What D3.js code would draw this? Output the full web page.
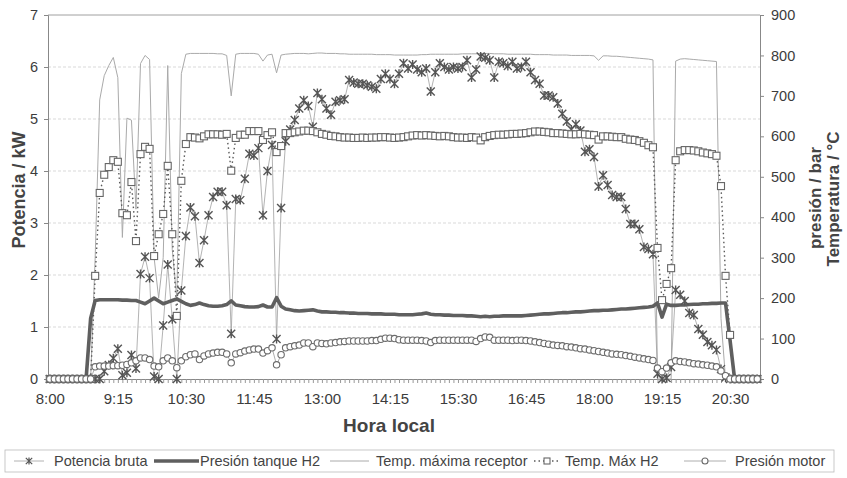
<!DOCTYPE html>
<html>
<head>
<meta charset="utf-8">
<script src="https://cdn.jsdelivr.net/npm/d3@7"></script>
<style>
  body { margin: 0; background: #fff; }
  text { font-family: "Liberation Sans", Arial, sans-serif; fill: #444; }
</style>
</head>
<body>
<svg id="chart" width="847" height="478"></svg>
<script>
// hora local, cada 5 minutos
const times = [
  "8:00","8:05","8:10","8:15","8:20","8:25","8:30","8:35","8:40","8:45","8:50","8:55",
  "9:00","9:05","9:10","9:15","9:20","9:25","9:30","9:35","9:40","9:45","9:50","9:55",
  "10:00","10:05","10:10","10:15","10:20","10:25","10:30","10:35","10:40","10:45","10:50","10:55",
  "11:00","11:05","11:10","11:15","11:20","11:25","11:30","11:35","11:40","11:45","11:50","11:55",
  "12:00","12:05","12:10","12:15","12:20","12:25","12:30","12:35","12:40","12:45","12:50","12:55",
  "13:00","13:05","13:10","13:15","13:20","13:25","13:30","13:35","13:40","13:45","13:50","13:55",
  "14:00","14:05","14:10","14:15","14:20","14:25","14:30","14:35","14:40","14:45","14:50","14:55",
  "15:00","15:05","15:10","15:15","15:20","15:25","15:30","15:35","15:40","15:45","15:50","15:55",
  "16:00","16:05","16:10","16:15","16:20","16:25","16:30","16:35","16:40","16:45","16:50","16:55",
  "17:00","17:05","17:10","17:15","17:20","17:25","17:30","17:35","17:40","17:45","17:50","17:55",
  "18:00","18:05","18:10","18:15","18:20","18:25","18:30","18:35","18:40","18:45","18:50","18:55",
  "19:00","19:05","19:10","19:15","19:20","19:25","19:30","19:35","19:40","19:45","19:50","19:55",
  "20:00","20:05","20:10","20:15","20:20","20:25","20:30","20:35","20:40","20:45","20:50","20:55",
  "21:00"
]

// Potencia bruta, kW (eje izquierdo)
const potencia = [
  0,0,0,0,0,0,0,0,0,0,0,0,
  0.15,0.27,0.4,0.58,0.07,0.12,0.46,0.2,
  2.02,2.35,1.94,0.05,0,1.03,2.2,1.15,0,1.7,
  2.75,3.3,3.13,2.23,2.67,3.15,3.5,3.6,3.6,3.34,
  0.87,3.46,3.44,3.85,4.33,4.3,4.44,3.15,4.0,4.5,
  0.77,3.29,4.57,4.8,4.98,5.2,5.36,5.25,4.85,5.5,
  5.38,5.2,5.08,5.33,5.36,5.38,5.75,5.7,5.68,5.68,
  5.65,5.62,5.58,5.77,5.87,5.77,5.68,5.87,6.07,5.97,
  6.05,5.95,5.9,5.97,5.53,5.9,6.07,6.0,5.95,6.0,
  5.97,6.0,6.13,5.8,5.95,6.2,6.18,6.13,5.8,6.1,
  6.07,6.02,6.1,5.97,6.0,6.1,5.9,5.75,5.68,5.45,
  5.45,5.42,5.3,5.1,4.95,4.8,4.9,4.78,4.37,4.42,
  4.27,3.7,3.92,3.73,3.54,3.5,3.5,3.27,2.98,2.98,
  2.88,2.54,2.5,2.4,0.1,0,0.02,0.23,1.71,1.62,
  1.5,1.27,1.23,0.96,0.85,0.71,0.65,0.56,0.19,0.03,
  0,0,0,0,0,0,0
]

// Presión tanque H2, bar (eje derecho)
const presionTanque = [
  0,0,0,0,0,0,0,0,0,
  150,194,196,196,196,196,196,195,195,194,
  194,190,186,193,200,193,186,190,194,198,
  192,186,182,184,188,184,181,180,180,181,
  184,193,183,181,179,178,178,179,183,178,
  178,201,180,173,171,169,168,169,170,171,
  168,166,166,165,165,164,164,163,163,162,
  162,162,161,161,161,160,160,160,159,159,
  159,159,160,161,163,160,159,159,158,158,
  157,157,157,156,156,155,154,155,154,155,
  155,156,156,156,156,156,157,158,159,160,
  161,161,162,163,164,164,165,166,166,167,
  168,169,169,170,170,171,172,173,173,174,
  175,176,177,178,180,188,153,185,182,182,
  183,183,184,185,185,186,186,187,187,188,
  188,95,0,0,0,0,0,0
]

// Temp. máxima receptor, °C (eje derecho)
const tempReceptor = [
  0,0,0,0,0,0,0,0,0,0,
  300,690,750,775,795,745,350,645,640,420,
  780,800,790,300,200,300,775,320,200,755,
  803,805,805,805,805,805,805,804,804,800,
  700,803,805,805,805,805,803,786,801,803,
  757,801,803,804,805,805,805,804,805,806,
  806,805,805,805,804,804,803,803,803,803,
  803,803,802,802,802,802,801,801,801,801,
  801,801,802,802,803,803,803,803,803,803,
  803,804,804,804,804,805,805,805,804,804,
  804,803,803,803,803,803,803,802,802,802,
  802,801,801,801,801,800,800,800,800,800,
  799,788,799,799,798,798,797,796,795,794,
  793,792,791,789,0,0,0,0,786,791,
  792,791,790,789,788,787,786,785,150,0,
  0,0,0,0,0,0,0
]

// Temp. Máx H2, °C (eje derecho)
const tempH2 = [
  0,0,0,0,0,0,0,0,0,0,
  255,460,505,524,541,537,410,405,487,341,
  556,574,569,304,358,408,527,358,156,490,
  581,598,597,595,600,605,605,605,604,606,
  515,596,604,604,613,613,613,591,603,610,
  561,576,608,608,610,612,614,614,613,610,
  606,604,601,600,598,597,597,596,596,597,
  596,597,597,598,598,597,596,597,598,600,
  602,603,602,603,602,601,600,601,600,598,
  597,597,596,598,597,590,598,601,603,604,
  604,605,606,606,607,608,610,612,612,611,
  610,608,608,607,606,605,605,606,605,604,
  603,592,600,600,599,598,598,594,592,591,
  588,584,578,573,324,195,235,274,541,563,
  566,566,565,563,560,558,556,552,477,255,
  109,0,0,0,0,0,0
]

// Presión motor, bar (eje derecho)
const presionMotor = [
  0,0,0,0,0,0,0,0,0,0,
  30,32,32,32,33,33,34,36,40,45,
  52,52,48,32,30,45,52,45,28,45,
  55,60,62,48,57,62,64,66,66,62,
  40,62,65,69,72,74,74,64,70,77,
  35,60,77,80,82,84,89,89,80,89,
  88,87,89,90,92,93,94,94,94,94,
  94,95,95,98,101,101,100,97,96,96,
  96,96,95,94,90,95,96,96,96,96,
  96,96,96,96,93,100,104,103,96,96,
  96,96,95,96,96,95,94,92,90,88,
  86,84,83,82,80,79,77,75,74,72,
  70,68,66,64,62,61,60,58,56,54,
  52,50,48,46,27,18,27,40,45,43,
  42,40,38,37,35,34,32,30,20,8,
  0,0,0,0,0,0,0
]

const xTickLabels = ["8:00","9:15","10:30","11:45","13:00","14:15","15:30","16:45","18:00","19:15","20:30"]
const yLeftTicks = [0,1,2,3,4,5,6,7]
const yRightTicks = [0,100,200,300,400,500,600,700,800,900]

const parseTime = d3.timeParse("%H:%M")
const rows = times.map((t, i) => ({
  t: parseTime(t),
  pot: potencia[i],
  tanque: presionTanque[i],
  rec: tempReceptor[i],
  h2: tempH2[i],
  motor: presionMotor[i]
}))

let svg = d3.select("#chart")
let plotLeft = 48, plotRight = 760, plotTop = 15, plotBottom = 379

let x = d3.scaleTime()
  .domain([parseTime("7:58"), parseTime("21:03")])
  .range([plotLeft, plotRight])

let yL = d3.scaleLinear().domain([0, 7]).range([plotBottom, plotTop])
let yR = d3.scaleLinear().domain([0, 900]).range([plotBottom, plotTop])

// gridlines
svg.append("g")
  .selectAll("line")
  .data(yLeftTicks.filter(d => d > 0 && d < 7))
  .join("line")
  .attr("x1", plotLeft).attr("x2", plotRight)
  .attr("y1", d => yL(d)).attr("y2", d => yL(d))
  .style("stroke", "#cfcfcf")
  .style("stroke-dasharray", "3,2")
  .style("stroke-width", 0.8)

// plot frame top
svg.append("line")
  .attr("x1", plotLeft).attr("x2", plotRight)
  .attr("y1", plotTop).attr("y2", plotTop)
  .style("stroke", "#a0a0a0")

// axes
let xMinor = svg.append("g")
  .attr("transform", `translate(0,${plotBottom})`)
  .call(d3.axisBottom(x).tickValues(rows.map(d => d.t)).tickSize(4).tickFormat(""))
xMinor.select(".domain").style("stroke", "#888")
xMinor.selectAll(".tick line").style("stroke", "#999")

let xAxis = svg.append("g")
  .attr("transform", `translate(0,${plotBottom})`)
  .call(d3.axisBottom(x).tickValues(xTickLabels.map(parseTime)).tickSize(0).tickPadding(14).tickFormat(d3.timeFormat("%-H:%M")))
xAxis.select(".domain").remove()
xAxis.selectAll("text")
  .style("font-size", "15px")
  .style("fill", "#3c3c3c")

let yLeftAxis = svg.append("g")
  .attr("transform", `translate(${plotLeft},0)`)
  .call(d3.axisLeft(yL).tickValues(yLeftTicks).tickSize(4).tickPadding(6).tickFormat(d3.format("d")))
yLeftAxis.select(".domain").style("stroke", "#888")
yLeftAxis.selectAll(".tick line").style("stroke", "#888")
yLeftAxis.selectAll("text").style("font-size", "14.5px").style("fill", "#3c3c3c")

let yRightAxis = svg.append("g")
  .attr("transform", `translate(${plotRight},0)`)
  .call(d3.axisRight(yR).tickValues(yRightTicks).tickSize(4).tickPadding(7).tickFormat(d3.format("d")))
yRightAxis.select(".domain").style("stroke", "#888")
yRightAxis.selectAll(".tick line").style("stroke", "#888")
yRightAxis.selectAll("text").style("font-size", "14.5px").style("fill", "#3c3c3c")

// series lines
let lineR = key => d3.line().x(d => x(d.t)).y(d => yR(d[key]))
let lineL = key => d3.line().x(d => x(d.t)).y(d => yL(d[key]))

svg.append("path")
  .attr("d", lineR("rec")(rows))
  .style("fill", "none").style("stroke", "#aaa").style("stroke-width", 1)

svg.append("path")
  .attr("d", lineL("pot")(rows))
  .style("fill", "none").style("stroke", "#a0a0a0").style("stroke-width", 0.8)

svg.append("path")
  .attr("d", lineR("h2")(rows))
  .style("fill", "none").style("stroke", "#5a5a5a").style("stroke-width", 1.4)
  .style("stroke-dasharray", "1.5,3")

svg.append("path")
  .attr("d", lineR("motor")(rows))
  .style("fill", "none").style("stroke", "#999").style("stroke-width", 0.8)

svg.append("path")
  .attr("d", lineR("tanque")(rows))
  .style("fill", "none").style("stroke", "#5f5f5f").style("stroke-width", 3.6)
  .style("stroke-linejoin", "round")

// markers
let star = "M-4,-4L4,4M-4,4L4,-4M0,-4.5L0,4.5"

svg.append("g")
  .selectAll("path")
  .data(rows)
  .join("path")
  .attr("transform", d => `translate(${x(d.t)},${yL(d.pot)})`)
  .attr("d", star)
  .style("fill", "none").style("stroke", "#555").style("stroke-width", 1.4)

svg.append("g")
  .selectAll("rect")
  .data(rows)
  .join("rect")
  .attr("x", d => x(d.t) - 3.5)
  .attr("y", d => yR(d.h2) - 3.5)
  .attr("width", 7).attr("height", 7)
  .style("fill", "#fff").style("stroke", "#666").style("stroke-width", 1.1)

svg.append("g")
  .selectAll("circle")
  .data(rows)
  .join("circle")
  .attr("cx", d => x(d.t))
  .attr("cy", d => yR(d.motor))
  .attr("r", 3.2)
  .style("fill", "#fff").style("stroke", "#6c6c6c").style("stroke-width", 1.1)

// axis titles
svg.append("text")
  .attr("transform", "translate(25,190) rotate(-90)")
  .attr("text-anchor", "middle")
  .style("font-size", "18px").style("font-weight", "bold")
  .text("Potencia / kW")

svg.append("text")
  .attr("transform", "translate(821,198) rotate(-90)")
  .attr("text-anchor", "middle")
  .style("font-size", "17px").style("font-weight", "bold")
  .text("presión / bar")

svg.append("text")
  .attr("transform", "translate(839,199) rotate(-90)")
  .attr("text-anchor", "middle")
  .style("font-size", "17px").style("font-weight", "bold")
  .text("Temperatura / °C")

svg.append("text")
  .attr("x", 389).attr("y", 432)
  .attr("text-anchor", "middle")
  .style("font-size", "19px").style("font-weight", "bold")
  .text("Hora local")

// legend
let legend = svg.append("g")
let ly = 461
let lfs = "14.5px"

legend.append("rect")
  .attr("x", 5).attr("y", 450).attr("width", 829).attr("height", 22)
  .style("fill", "none").style("stroke", "#bbb").style("stroke-width", 0.8)

legend.append("line").attr("x1", 14).attr("x2", 44).attr("y1", ly).attr("y2", ly)
  .style("stroke", "#a0a0a0").style("stroke-width", 0.8)
legend.append("path").attr("transform", `translate(29,${ly}) scale(0.8)`).attr("d", star)
  .style("fill", "none").style("stroke", "#555").style("stroke-width", 1.5)
legend.append("text").attr("x", 54).attr("y", ly + 5).style("font-size", lfs).text("Potencia bruta")

legend.append("line").attr("x1", 154).attr("x2", 199).attr("y1", ly).attr("y2", ly)
  .style("stroke", "#5f5f5f").style("stroke-width", 3.6)
legend.append("text").attr("x", 200).attr("y", ly + 5).style("font-size", lfs).text("Presión tanque H2")

legend.append("line").attr("x1", 330).attr("x2", 369).attr("y1", ly).attr("y2", ly)
  .style("stroke", "#aaa").style("stroke-width", 1)
legend.append("text").attr("x", 376).attr("y", ly + 5).style("font-size", lfs).text("Temp. máxima receptor")

legend.append("line").attr("x1", 534).attr("x2", 561).attr("y1", ly).attr("y2", ly)
  .style("stroke", "#5a5a5a").style("stroke-width", 1.4).style("stroke-dasharray", "1.5,3")
legend.append("rect").attr("x", 544).attr("y", ly - 3).attr("width", 6).attr("height", 6)
  .style("fill", "#fff").style("stroke", "#666").style("stroke-width", 1.1)
legend.append("text").attr("x", 565).attr("y", ly + 5).style("font-size", lfs).text("Temp. Máx H2")

legend.append("line").attr("x1", 684).attr("x2", 726).attr("y1", ly).attr("y2", ly)
  .style("stroke", "#999").style("stroke-width", 0.8)
legend.append("circle").attr("cx", 705).attr("cy", ly).attr("r", 3)
  .style("fill", "#fff").style("stroke", "#6c6c6c").style("stroke-width", 1.1)
legend.append("text").attr("x", 735).attr("y", ly + 5).style("font-size", lfs).text("Presión motor")
</script>
</body>
</html>
